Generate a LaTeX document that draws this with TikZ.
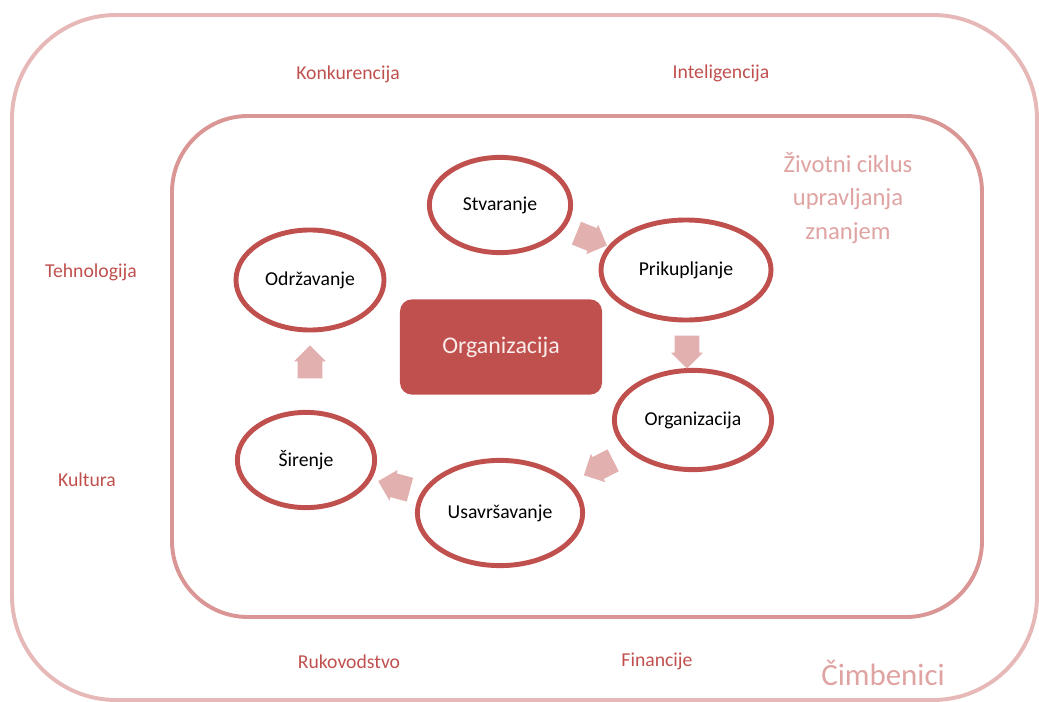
\documentclass[tikz,border=0pt]{standalone}
\usepackage{fontspec}
\setmainfont{Carlito}
\usetikzlibrary{shapes.geometric,shapes.arrows}

\definecolor{darkred}{HTML}{C0504D}
\definecolor{framepink}{HTML}{E6B9B8}
\definecolor{innerpink}{HTML}{D99694}
\definecolor{arrowpink}{HTML}{E2B0AF}
\definecolor{titlepink}{HTML}{DFA3A2}
\definecolor{lighttext}{HTML}{FBECEC}

\tikzset{
  phase/.style={ellipse, draw=darkred, line width=3.5pt, fill=white,
    inner sep=0pt, font=\fontsize{14}{17}\selectfont},
  core/.style={rectangle, rounded corners=0.3cm, fill=darkred,
    text=lighttext, minimum width=5.05cm, minimum height=2.38cm,
    font=\fontsize{17}{20}\selectfont},
  flowarrow/.style={single arrow, fill=arrowpink, draw=none,
    minimum height=0.82cm, inner xsep=0.1cm, inner ysep=0.3cm,
    single arrow head extend=0.09cm},
  factor/.style={text=darkred, font=\fontsize{14}{17}\selectfont},
}

\begin{document}
\begin{tikzpicture}[x=0.025cm,y=-0.025cm]
  \useasboundingbox (0,0) rectangle (1039,702);
  % frames
  \draw[framepink, line width=2.8pt, rounded corners=2.6cm] (12,15) rectangle (1037,700);
  \draw[innerpink, line width=2.8pt, rounded corners=1.9cm] (172,116) rectangle (982,617);

  % factors
  \node[factor] (konk) at (348,74) {Konkurencija};
  \node[factor] (intel) at (721,73) {Inteligencija};
  \node[factor] (tehn) at (91,272) {Tehnologija};
  \node[factor] (kult) at (87,480) {Kultura};
  \node[factor] (ruk) at (349,662) {Rukovodstvo};
  \node[factor] (fin) at (657,661) {Financije};
  \node[text=titlepink, font=\fontsize{22}{26}\selectfont] (cimb) at (883,673) {Čimbenici};
  \node[text=titlepink, align=center, font=\fontsize{17.5}{23.5}\selectfont] (ciklus) at (848,198)
    {Životni ciklus\\upravljanja\\znanjem};

  % cycle
  \node[core] (org) at (501,347) {Organizacija};
  \node[phase, minimum width=3.53cm, minimum height=2.38cm] (stv) at (500,205) {Stvaranje};
  \node[phase, minimum width=4.25cm, minimum height=2.5cm] (prik) at (686,270) {Prikupljanje};
  \node[phase, minimum width=3.93cm, minimum height=2.48cm] (orgn) at (693,420) {Organizacija};
  \node[phase, minimum width=4.13cm, minimum height=2.63cm] (usav) at (500,513) {Usavršavanje};
  \node[phase, minimum width=3.43cm, minimum height=2.38cm] (sir) at (306,460) {Širenje};
  \node[phase, minimum width=3.7cm, minimum height=2.5cm] (odr) at (310,280) {Održavanje};

  % arrows
  \node[flowarrow, rotate=-22] (a1) at (586,237) {};
  \node[flowarrow, rotate=-90] (a2) at (687,346) {};
  \node[flowarrow, rotate=207] (a3) at (604,465) {};
  \node[flowarrow, rotate=165] (a4) at (400,487) {};
  \node[flowarrow, rotate=90] (a5) at (310,368) {};
\end{tikzpicture}
\end{document}
